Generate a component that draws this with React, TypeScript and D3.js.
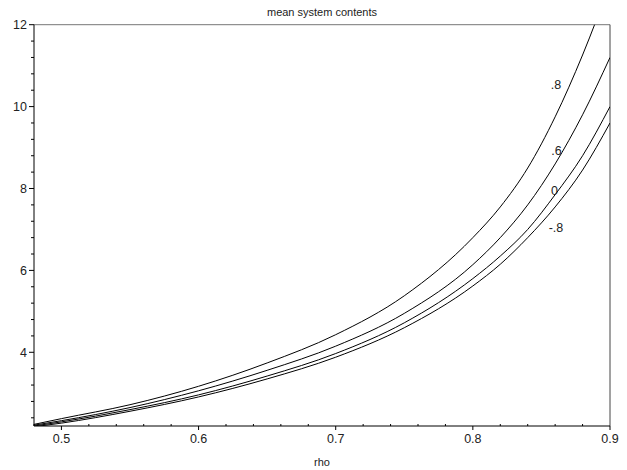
import React, { useEffect, useRef } from 'react';
import * as d3 from 'd3';

const rho = [0.48, 0.5, 0.55, 0.6, 0.65, 0.7, 0.75, 0.8, 0.82, 0.84, 0.86, 0.88, 0.9];

// mean system contents, one array per correlation value
const corr08 = [2.24, 2.38, 2.72, 3.17, 3.74, 4.43, 5.38, 6.8, 7.55, 8.5, 9.75, 11.26, 13.0];
const corr06 = [2.22, 2.33, 2.65, 3.06, 3.56, 4.15, 4.95, 6.14, 6.8, 7.6, 8.6, 9.8, 11.2];
const corr0 = [2.2, 2.3, 2.6, 2.96, 3.42, 3.97, 4.72, 5.8, 6.35, 7.0, 7.85, 8.8, 10.0];
const corrM08 = [2.18, 2.27, 2.56, 2.91, 3.35, 3.88, 4.6, 5.62, 6.15, 6.8, 7.55, 8.45, 9.6];

// curve labels and where they sit (rho, value)
const seriesNames = ['.8', '.6', '0', '-.8'];
const labelRho = [0.8606, 0.861, 0.8596, 0.8606];
const labelValue = [10.53, 8.94, 7.96, 7.04];

const xTicks = [0.5, 0.6, 0.7, 0.8, 0.9];
const yTicks = [4, 6, 8, 10, 12];

const App = () => {
  const ref = useRef<HTMLDivElement>(null);

  useEffect(() => {
    if (!ref.current) return;
    d3.select(ref.current).selectAll('*').remove();

    const width = 627;
    const height = 470;
    const left = 34;
    const right = 610;
    const top = 24.7;
    const bottom = 426;

    const svg = d3
      .select(ref.current)
      .append('svg')
      .attr('width', width)
      .attr('height', height)
      .style('position', 'absolute')
      .style('left', '0px')
      .style('top', '0px')
      .style('font-family', 'Liberation Sans, Arial, sans-serif');

    const x = d3.scaleLinear().domain([0.48, 0.9]).range([left, right]);
    const y = d3.scaleLinear().domain([2.2, 12]).range([bottom, top]);

    svg
      .append('defs')
      .append('clipPath')
      .attr('id', 'plot-clip')
      .append('rect')
      .attr('x', left)
      .attr('y', top)
      .attr('width', right - left)
      .attr('height', bottom - top);

    // frame: top grey, right dark
    svg
      .append('line')
      .attr('x1', left)
      .attr('x2', right)
      .attr('y1', top)
      .attr('y2', top)
      .attr('stroke', '#777')
      .attr('stroke-width', 1);
    svg
      .append('line')
      .attr('x1', right)
      .attr('x2', right)
      .attr('y1', top)
      .attr('y2', bottom)
      .attr('stroke', '#444')
      .attr('stroke-width', 1);

    // y axis
    const yMinor = d3.range(2.4, 12.01, 0.4).filter((v) => !yTicks.some((t) => Math.abs(t - v) < 1e-6));
    const yAxis = svg.append('g');
    yAxis
      .append('line')
      .attr('x1', left)
      .attr('x2', left)
      .attr('y1', top)
      .attr('y2', bottom)
      .attr('stroke', '#000');
    yAxis
      .selectAll('line.major')
      .data(yTicks)
      .join('line')
      .attr('class', 'major')
      .attr('x1', left - 5)
      .attr('x2', left)
      .attr('y1', (d) => y(d))
      .attr('y2', (d) => y(d))
      .attr('stroke', '#000');
    yAxis
      .selectAll('line.minor')
      .data(yMinor)
      .join('line')
      .attr('class', 'minor')
      .attr('x1', left - 3)
      .attr('x2', left)
      .attr('y1', (d) => y(d))
      .attr('y2', (d) => y(d))
      .attr('stroke', '#000');
    yAxis
      .selectAll('text')
      .data(yTicks)
      .join('text')
      .attr('x', left - 7)
      .attr('y', (d) => y(d) + 4.5)
      .attr('text-anchor', 'end')
      .attr('font-size', 12.5)
      .attr('fill', '#222')
      .text((d) => d);

    // x axis
    const xMinor = d3.range(0.48, 0.9, 0.02).filter((v) => !xTicks.some((t) => Math.abs(t - v) < 1e-6));
    const xAxis = svg.append('g');
    xAxis
      .append('line')
      .attr('x1', left)
      .attr('x2', right)
      .attr('y1', bottom)
      .attr('y2', bottom)
      .attr('stroke', '#000');
    xAxis
      .selectAll('line.major')
      .data(xTicks)
      .join('line')
      .attr('class', 'major')
      .attr('x1', (d) => x(d))
      .attr('x2', (d) => x(d))
      .attr('y1', bottom)
      .attr('y2', bottom + 4)
      .attr('stroke', '#000');
    xAxis
      .selectAll('line.minor')
      .data(xMinor)
      .join('line')
      .attr('class', 'minor')
      .attr('x1', (d) => x(d))
      .attr('x2', (d) => x(d))
      .attr('y1', bottom - 2)
      .attr('y2', bottom)
      .attr('stroke', '#000');
    xAxis
      .selectAll('text')
      .data(xTicks)
      .join('text')
      .attr('x', (d) => x(d))
      .attr('y', bottom + 17)
      .attr('text-anchor', 'middle')
      .attr('font-size', 12.5)
      .attr('fill', '#222')
      .text((d) => d.toFixed(1));

    // curves
    const series = [corr08, corr06, corr0, corrM08];
    const line = d3
      .line<number>()
      .curve(d3.curveMonotoneX)
      .x((_, i) => x(rho[i]))
      .y((d) => y(d));

    svg
      .append('g')
      .attr('clip-path', 'url(#plot-clip)')
      .selectAll('path')
      .data(series)
      .join('path')
      .attr('fill', 'none')
      .attr('stroke', '#000')
      .attr('stroke-width', 1)
      .attr('d', (d) => line(d));

    // curve labels
    svg
      .append('g')
      .selectAll('text')
      .data(seriesNames)
      .join('text')
      .attr('x', (_, i) => x(labelRho[i]))
      .attr('y', (_, i) => y(labelValue[i]) + 4.5)
      .attr('text-anchor', 'middle')
      .attr('font-size', 12.5)
      .attr('fill', '#222')
      .text((d) => d);

    // titles
    svg
      .append('text')
      .attr('x', (left + right) / 2)
      .attr('y', 16)
      .attr('text-anchor', 'middle')
      .attr('font-size', 11)
      .attr('fill', '#222')
      .text('mean system contents');

    svg
      .append('text')
      .attr('x', (left + right) / 2)
      .attr('y', 466)
      .attr('text-anchor', 'middle')
      .attr('font-size', 11)
      .attr('fill', '#222')
      .text('rho');
  }, []);

  return <div ref={ref}></div>;
};

export default App;
